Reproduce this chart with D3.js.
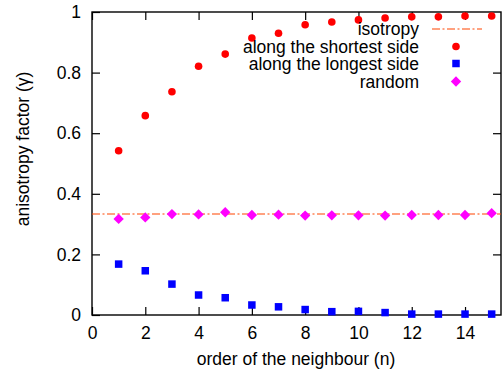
<!DOCTYPE html>
<html>
<head>
<meta charset="utf-8">
<script src="https://cdn.jsdelivr.net/npm/d3@7"></script>
<style>
  body { margin: 0; background: #fff; }
  text { font-family: "Liberation Sans", Arial, sans-serif; fill: #000; }
</style>
</head>
<body>
<div id="chart"></div>
<script>
// data
var order = [1, 2, 3, 4, 5, 6, 7, 8, 9, 10, 11, 12, 13, 14, 15];
var shortest = [0.542, 0.658, 0.737, 0.821, 0.861, 0.914, 0.930, 0.958, 0.967, 0.974, 0.980, 0.984, 0.984, 0.987, 0.987];
var longest = [0.168, 0.146, 0.102, 0.066, 0.057, 0.033, 0.027, 0.018, 0.011, 0.012, 0.008, 0.003, 0.003, 0.003, 0.003];
var random = [0.317, 0.322, 0.333, 0.332, 0.339, 0.330, 0.331, 0.328, 0.329, 0.329, 0.328, 0.330, 0.330, 0.330, 0.336];
var isotropy = 1 / 3;
var xTicks = [0, 2, 4, 6, 8, 10, 12, 14];
var yTicks = [0, 0.2, 0.4, 0.6, 0.8, 1];
var legendLabels = ["isotropy", "along the shortest side", "along the longest side", "random"];

var svgWidth = 502;
var svgHeight = 371;
var margin = { top: 12, right: 1, bottom: 56, left: 92 };
var width = svgWidth - margin.left - margin.right;
var height = svgHeight - margin.top - margin.bottom;

var svg = d3.select("#chart")
  .append("svg")
  .attr("width", svgWidth)
  .attr("height", svgHeight);

var chartGroup = svg.append("g")
  .attr("transform", `translate(${margin.left}, ${margin.top})`);

var xScale = d3.scaleLinear().domain([0, 15.35]).range([0, width]);
var yScale = d3.scaleLinear().domain([0, 1]).range([height, 0]);

var fontSize = 17.5;
var tickLen = 8;

// axes, ticks inward on all four sides
function styleAxis(g) {
  g.select(".domain").remove();
  g.selectAll("line").attr("stroke", "#000").attr("stroke-width", 1.2);
  g.selectAll("text").style("font-size", fontSize + "px");
}

chartGroup.append("g")
  .attr("transform", `translate(0, ${height})`)
  .call(d3.axisBottom(xScale).tickValues(xTicks).tickSize(-tickLen).tickPadding(12).tickFormat(d3.format("d")))
  .call(styleAxis);

chartGroup.append("g")
  .call(d3.axisTop(xScale).tickValues(xTicks).tickSize(-tickLen).tickFormat(""))
  .call(styleAxis);

chartGroup.append("g")
  .call(d3.axisLeft(yScale).tickValues(yTicks).tickSize(-tickLen).tickPadding(11).tickFormat(d => d3.format("")(+d.toFixed(1))))
  .call(styleAxis);

chartGroup.append("g")
  .attr("transform", `translate(${width}, 0)`)
  .call(d3.axisRight(yScale).tickValues(yTicks.slice(1, 5)).tickSize(-tickLen).tickFormat(""))
  .call(styleAxis);

chartGroup.append("rect")
  .attr("width", width)
  .attr("height", height)
  .attr("fill", "none")
  .attr("stroke", "#000")
  .attr("stroke-width", 1.4);

// isotropy reference line
chartGroup.append("line")
  .attr("x1", 0)
  .attr("x2", width)
  .attr("y1", yScale(isotropy))
  .attr("y2", yScale(isotropy))
  .attr("stroke", "#ff4500")
  .attr("stroke-width", 1.2)
  .attr("stroke-dasharray", "8,2.5,2,2.5");

var pts = order.map((n, i) => ({ n: n, s: shortest[i], l: longest[i], r: random[i] }));

var squareSize = 7.5;
var diamond = d3.symbol().type(d3.symbolDiamond2).size(68);

chartGroup.selectAll(".rnd")
  .data(pts)
  .enter()
  .append("path")
  .attr("class", "rnd")
  .attr("d", diamond)
  .attr("transform", d => `translate(${xScale(d.n)}, ${yScale(d.r)})`)
  .attr("fill", "#ff00ff");

chartGroup.selectAll(".lng")
  .data(pts)
  .enter()
  .append("rect")
  .attr("class", "lng")
  .attr("x", d => xScale(d.n) - squareSize / 2)
  .attr("y", d => yScale(d.l) - squareSize / 2)
  .attr("width", squareSize)
  .attr("height", squareSize)
  .attr("fill", "#0000ff");

chartGroup.selectAll(".sht")
  .data(pts)
  .enter()
  .append("circle")
  .attr("class", "sht")
  .attr("cx", d => xScale(d.n))
  .attr("cy", d => yScale(d.s))
  .attr("r", 3.8)
  .attr("fill", "#ff0000");

// legend
var legend = svg.append("g");
var legendY = [29, 46.5, 63.5, 81.5];
var textX = 419;
var sampleX = 456;

legendLabels.forEach(function(label, i) {
  legend.append("text")
    .attr("x", textX)
    .attr("y", legendY[i])
    .attr("dy", "0.35em")
    .attr("text-anchor", "end")
    .style("font-size", fontSize + "px")
    .text(label);
});

legend.append("line")
  .attr("x1", 432).attr("x2", 482)
  .attr("y1", legendY[0]).attr("y2", legendY[0])
  .attr("stroke", "#ff4500")
  .attr("stroke-width", 1.2)
  .attr("stroke-dasharray", "8,2.5,2,2.5");

legend.append("circle")
  .attr("cx", sampleX).attr("cy", legendY[1])
  .attr("r", 3.8).attr("fill", "#ff0000");

legend.append("rect")
  .attr("x", sampleX - squareSize / 2).attr("y", legendY[2] - squareSize / 2)
  .attr("width", squareSize).attr("height", squareSize)
  .attr("fill", "#0000ff");

legend.append("path")
  .attr("d", diamond)
  .attr("transform", `translate(${sampleX}, ${legendY[3]})`)
  .attr("fill", "#ff00ff");

// axis titles
svg.append("text")
  .attr("x", 296)
  .attr("y", 359)
  .attr("dy", "0.35em")
  .attr("text-anchor", "middle")
  .style("font-size", fontSize + "px")
  .text("order of the neighbour (n)");

svg.append("text")
  .attr("transform", "translate(23, 149) rotate(-90)")
  .attr("dy", "0.35em")
  .attr("text-anchor", "middle")
  .style("font-size", fontSize + "px")
  .text("anisotropy factor (γ)");
</script>
</body>
</html>
